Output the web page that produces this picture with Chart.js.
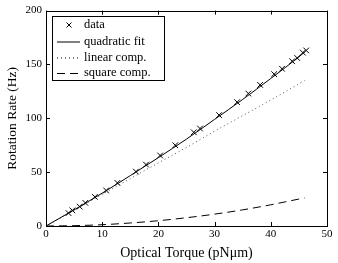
<!DOCTYPE html>
<html lang="en">
<head>
    <meta charset="UTF-8">
    <style>
        body { margin: 0; background: #fff; }
    </style>
</head>
<body>
<script src="https://cdn.jsdelivr.net/npm/chart.js@4/dist/chart.umd.min.js"></script>
<canvas id="torque-chart" width="338" height="263"></canvas>
<script>
    // measured points
    var dataX = [4, 4.7, 6, 7, 8.7, 10.7, 12.7, 16, 17.8, 20.3, 23, 26.3, 27.4, 30.8, 34, 36, 38.1, 40.6, 42, 43.8, 44.7, 45.7, 46.3]
    var dataY = [12, 14.5, 18, 21.5, 27, 33, 40, 50.5, 57, 65.5, 75, 87, 90.5, 103, 115, 123, 131, 141, 146, 153, 156, 161, 163]

    // curves
    var curveX = [0, 5, 10, 15, 20, 25, 30, 35, 40, 45, 46]
    var fitY = [0, 15, 30.5, 46.8, 63.5, 80.7, 99, 117.5, 137, 157, 161.5]
    var linearY = [0, 14.6, 29.3, 44, 58.6, 73, 88, 102.5, 117, 132, 135]
    var squareY = [0, 0.3, 1.2, 2.8, 4.9, 7.7, 11, 15, 19.7, 25, 26]

    var xTicks = [0, 10, 20, 30, 40, 50]
    var yTicks = [0, 50, 100, 150, 200]

    var legendLabels = ['data', 'quadratic fit', 'linear comp.', 'square comp.']

    function pairs(xs, ys) {
        return xs.map(function (x, i) { return {x: x, y: ys[i]} })
    }

    var serif = "'Liberation Serif', 'DejaVu Serif', serif"

    // frame, inward ticks on all four sides, legend box
    var framePlugin = {
        id: 'frame',
        afterDraw: function (chart) {
            var ctx = chart.ctx, a = chart.chartArea
            var xs = chart.scales.x, ys = chart.scales.y
            ctx.save()
            ctx.strokeStyle = '#000'
            ctx.lineWidth = 1
            ctx.beginPath()
            xTicks.forEach(function (t) {
                var px = Math.round(xs.getPixelForValue(t)) + 0.5
                ctx.moveTo(px, a.bottom); ctx.lineTo(px, a.bottom - 4)
                ctx.moveTo(px, a.top); ctx.lineTo(px, a.top + 4)
            })
            yTicks.forEach(function (t) {
                var py = Math.round(ys.getPixelForValue(t)) + 0.5
                ctx.moveTo(a.left, py); ctx.lineTo(a.left + 4, py)
                ctx.moveTo(a.right, py); ctx.lineTo(a.right - 4, py)
            })
            ctx.stroke()
            ctx.strokeRect(Math.round(a.left) + 0.5, Math.round(a.top) + 0.5,
                Math.round(a.right - a.left), Math.round(a.bottom - a.top))

            // legend
            var bx = 52.5, by = 16.5, bw = 112, bh = 64
            ctx.fillStyle = '#fff'
            ctx.fillRect(bx, by, bw, bh)
            ctx.strokeRect(bx, by, bw, bh)
            ctx.fillStyle = '#000'
            ctx.font = '12.5px ' + serif
            ctx.textBaseline = 'middle'
            var rowY = [25, 41.5, 57.5, 73]
            legendLabels.forEach(function (lab, i) {
                var ds = chart.data.datasets[i]
                var y = rowY[i]
                ctx.fillText(lab, 84, y)
                ctx.beginPath()
                ctx.lineWidth = 1
                if (i === 0) {
                    ctx.moveTo(66.5, y - 2.5); ctx.lineTo(71.5, y + 2.5)
                    ctx.moveTo(71.5, y - 2.5); ctx.lineTo(66.5, y + 2.5)
                    ctx.setLineDash([])
                } else {
                    ctx.setLineDash(ds.borderDash || [])
                    ctx.moveTo(57, y + 0.5); ctx.lineTo(80, y + 0.5)
                }
                ctx.stroke()
            })
            ctx.restore()
        }
    }

    new Chart(document.getElementById('torque-chart'), {
        type: 'scatter',
        data: {
            datasets: [
                {
                    label: legendLabels[0],
                    data: pairs(dataX, dataY),
                    showLine: false,
                    pointStyle: 'crossRot',
                    pointRadius: 4,
                    borderColor: '#000',
                    borderWidth: 1,
                    order: 0
                },
                {
                    label: legendLabels[1],
                    data: pairs(curveX, fitY),
                    showLine: true,
                    pointRadius: 0,
                    borderColor: '#000',
                    borderWidth: 1,
                    cubicInterpolationMode: 'monotone'
                },
                {
                    label: legendLabels[2],
                    data: pairs(curveX, linearY),
                    showLine: true,
                    pointRadius: 0,
                    borderColor: '#555',
                    borderWidth: 1,
                    borderDash: [1, 3],
                    cubicInterpolationMode: 'monotone'
                },
                {
                    label: legendLabels[3],
                    data: pairs(curveX, squareY),
                    showLine: true,
                    pointRadius: 0,
                    borderColor: '#000',
                    borderWidth: 1,
                    borderDash: [8, 5],
                    cubicInterpolationMode: 'monotone'
                }
            ]
        },
        options: {
            responsive: false,
            animation: false,
            layout: { padding: { top: 10, right: 11, left: 0, bottom: 0 } },
            plugins: {
                legend: { display: false },
                tooltip: { enabled: false }
            },
            scales: {
                x: {
                    type: 'linear',
                    min: 0, max: 50,
                    afterBuildTicks: function (s) { s.ticks = xTicks.map(function (v) { return {value: v} }) },
                    afterFit: function (s) { s.height = 37 },
                    grid: { display: false, drawTicks: false },
                    border: { display: false },
                    ticks: { color: '#000', font: { family: serif, size: 11 }, padding: 2, maxRotation: 0 },
                    title: {
                        display: true,
                        text: 'Optical Torque (pNμm)',
                        color: '#000',
                        font: { family: serif, size: 14 },
                        padding: { top: 0, bottom: 1 }
                    }
                },
                y: {
                    type: 'linear',
                    min: 0, max: 200,
                    afterBuildTicks: function (s) { s.ticks = yTicks.map(function (v) { return {value: v} }) },
                    afterFit: function (s) { s.width = 46 },
                    grid: { display: false, drawTicks: false },
                    border: { display: false },
                    ticks: { color: '#000', font: { family: serif, size: 11 }, padding: 4 },
                    title: {
                        display: true,
                        text: 'Rotation Rate (Hz)',
                        color: '#000',
                        font: { family: serif, size: 13.5 },
                        padding: { top: 4, bottom: 0 }
                    }
                }
            }
        },
        plugins: [framePlugin]
    })
</script>
</body>
</html>
